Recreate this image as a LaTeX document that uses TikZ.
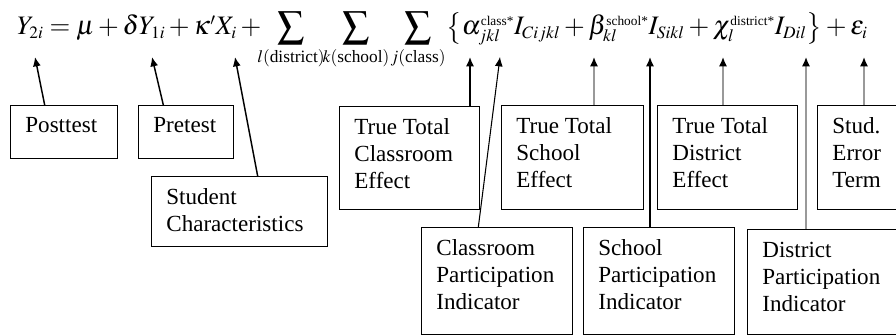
\documentclass[tikz,border=0pt]{standalone}
\usepackage{amsmath}
\usepackage{mathptmx}
\usepackage{fontspec}
\setmainfont{Liberation Serif}
\usetikzlibrary{arrows.meta,positioning}
\DeclareMathSizes{20}{20}{13}{10}

% fixed size box with text at the top
\newcommand{\tagtext}[3]{\parbox[t][#2][t]{#1}{#3}}
% small upright superscript
\newcommand{\lvl}[1]{\scriptscriptstyle\text{#1}}

\begin{document}
\begin{tikzpicture}[
    x=0.75pt, y=0.75pt,
    term/.style={inner sep=0pt, font=\fontsize{20}{24}\selectfont},
    tag/.style={draw, line width=1.1pt, anchor=north west, inner xsep=11pt, inner ysep=9pt, font=\fontsize{17.3}{20.3}\selectfont},
    arr/.style={line width=1.1pt, -{Latex[length=7pt,width=6pt]}},
    grayarr/.style={line width=1.1pt, draw=black!40, -{Latex[length=7pt,width=6pt,color=black]}},
]
\clip (0,0) rectangle (896,-335);
\fill[white] (0,0) rectangle (896,-335);

% the model
\node[term, anchor=base west] (lhs) at (17,-35) {$Y_{2i} = \mu + \delta Y_{1i} + \kappa' X_i + {}$};
\node[term, anchor=base] (sumd) at (291,-35) {$\displaystyle\sum\limits_{l(\text{district})}$};
\node[term, anchor=base] (sums) at (356,-35) {$\displaystyle\sum\limits_{k(\text{school})}$};
\node[term, anchor=base] (sumc) at (418,-35) {$\displaystyle\sum\limits_{j(\text{class})}$};
\node[term, anchor=base west] (rhs) at (446,-35)
  {$\bigl\{\alpha_{jkl}^{\lvl{class*}} I_{Cijkl} + \beta_{kl}^{\lvl{school*}} I_{Sikl} + \chi_{l}^{\lvl{district*}} I_{Dil}\bigr\} + \varepsilon_i$};

% points of the terms
\coordinate (tpost) at (35,-57);
\coordinate (tpre) at (152,-57);
\coordinate (tstud) at (235,-57);
\coordinate (tclasseff) at (470,-57);
\coordinate (tclasspart) at (500,-57);
\coordinate (tschooleff) at (594,-57);
\coordinate (tschoolpart) at (650,-57);
\coordinate (tdistreff) at (723,-57);
\coordinate (tdistpart) at (806,-57);
\coordinate (terr) at (864,-57);

% labels
\node[tag] (post) at (10,-105) {\tagtext{58.25pt}{21.75pt}{Posttest}};
\node[tag] (pre) at (138,-105) {\tagtext{49.25pt}{21.75pt}{Pretest}};
\node[tag] (stud) at (151,-176) {\tagtext{110pt}{34.5pt}{Student\\Characteristics}};
\node[tag] (classeff) at (339,-106) {\tagtext{83pt}{59.25pt}{True Total\\Classroom\\Effect}};
\node[tag] (schooleff) at (501,-105) {\tagtext{84.5pt}{60pt}{True Total\\School\\Effect}};
\node[tag] (distreff) at (657,-105) {\tagtext{83pt}{60pt}{True Total\\District\\Effect}};
\node[tag] (err) at (817,-105) {\tagtext{60.5pt}{60pt}{Stud.\\Error\\Term}};
\node[tag] (classpart) at (421,-227) {\tagtext{91.25pt}{62.25pt}{Classroom\\Participation\\Indicator}};
\node[tag] (schoolpart) at (583,-227) {\tagtext{91.25pt}{62.25pt}{School\\Participation\\Indicator}};
\node[tag] (distpart) at (747,-229) {\tagtext{91.25pt}{60.75pt}{District\\Participation\\Indicator}};

% arrows up to the terms
\draw[arr] ([xshift=26pt]post.north west) -- (tpost);
\draw[arr] ([xshift=19pt]pre.north west) -- (tpre);
\draw[arr] ([xshift=80pt]stud.north west) -- (tstud);
\draw[arr] (tclasseff |- classeff.north) -- (tclasseff);
\draw[arr, line width=0.8pt] ([xshift=43pt]classpart.north west) -- (tclasspart);
\draw[grayarr] (tschooleff |- schooleff.north) -- (tschooleff);
\draw[arr] (tschoolpart |- schoolpart.north) -- (tschoolpart);
\draw[grayarr] (tdistreff |- distreff.north) -- (tdistreff);
\draw[grayarr] (tdistpart |- distpart.north) -- (tdistpart);
\draw[grayarr] (terr |- err.north) -- (terr);

\end{tikzpicture}
\end{document}
